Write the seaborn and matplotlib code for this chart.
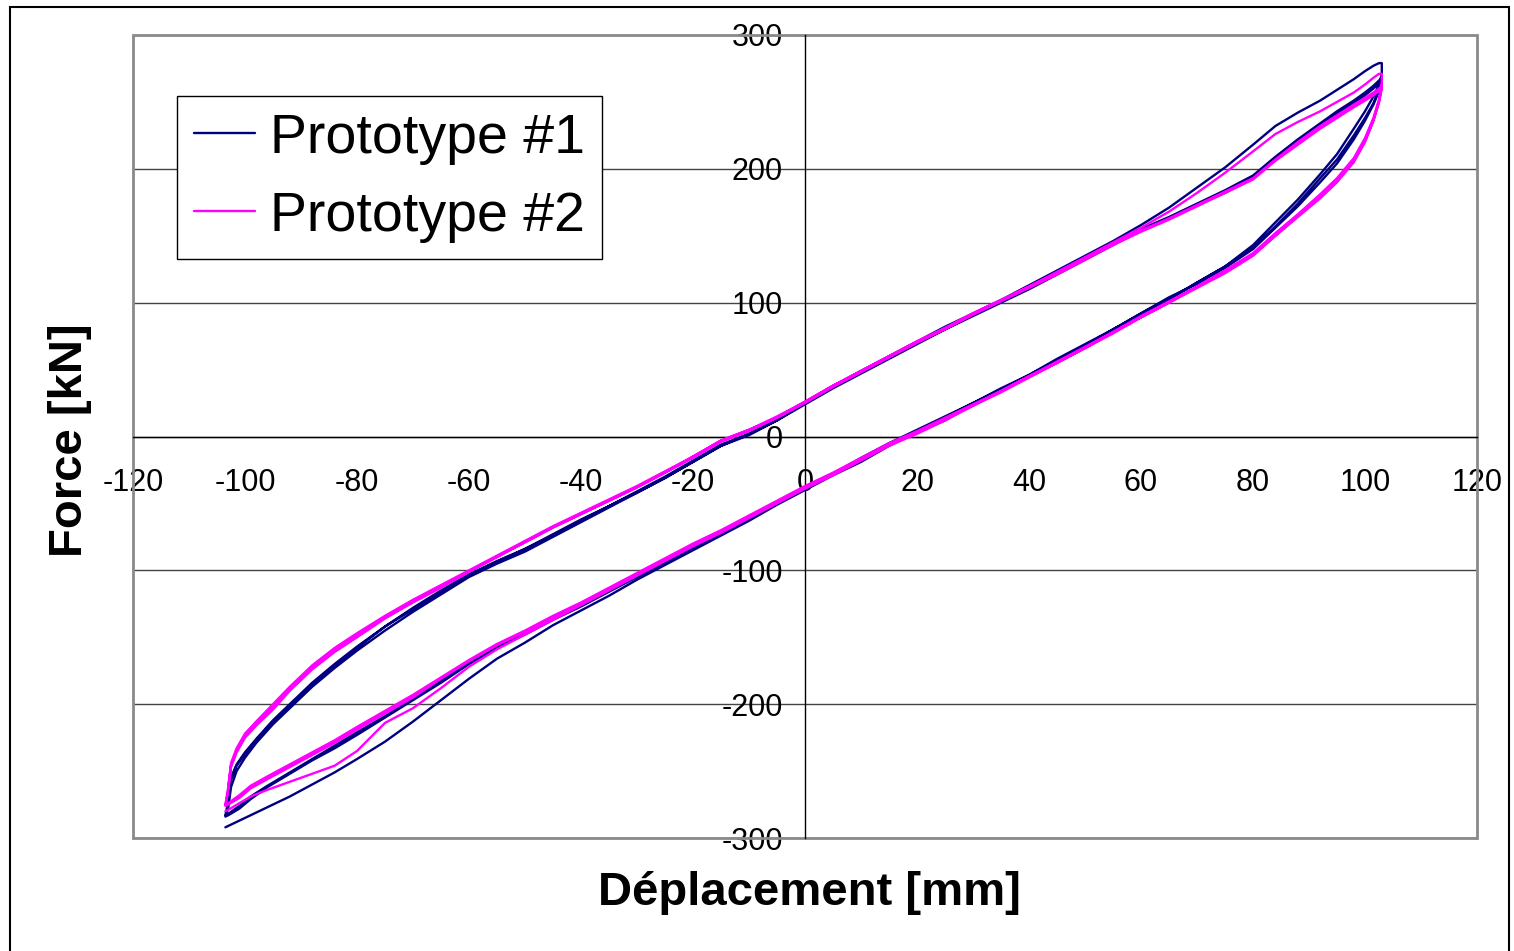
import matplotlib
matplotlib.use("Agg")
import matplotlib.pyplot as plt
from matplotlib.patches import Rectangle
import seaborn as sns
import pandas as pd

# ---------------- data ----------------
SERIES = ["Prototype #1", "Prototype #2"]
COLORS = ["#000080", "#FF00FF"]

# displacement stations of the loading branch (-103 -> +103) and unloading branch (+103 -> -103)
LOAD_X = [-103.5, -103, -101, -99, -96, -92, -88, -84, -80, -75,
          -70, -65, -60, -55, -50, -45, -40, -35, -30, -25,
          -20, -15, -10, -5, 0, 5, 10, 15, 20, 25,
          30, 35, 40, 45, 50, 55, 60, 65, 70, 75,
          80, 84, 88, 92, 95, 98, 100, 101.5, 102.5, 103]
UNLOAD_X = [103, 102.5, 101.5, 100, 98, 95, 92, 88, 84, 80,
            75, 70, 65, 60, 55, 50, 45, 40, 35, 30,
            25, 20, 15, 10, 5, 0, -5, -10, -15, -20,
            -25, -30, -35, -40, -45, -50, -55, -60, -65, -70,
            -75, -80, -84, -88, -92, -95, -98, -100, -101.5, -102.5,
            -103]

# Prototype #1 – three cycles
P1_LOWER_1 = [-292, -291, -287, -283, -277, -269, -260, -251, -241, -228,
              -213, -197, -181, -166, -154, -141, -130, -119, -107, -96,
              -85, -74, -63, -51, -40, -29, -19, -7, 3, 12,
              24, 34, 45, 56, 67, 80, 91, 102, 115, 127,
              143, 160, 177, 196, 211, 230, 243, 254, 263, 271]
P1_UPPER_1 = [279, 279, 277, 273, 267, 259, 251, 242, 232, 218,
              201, 186, 171, 158, 146, 135, 124, 113, 102, 92,
              82, 71, 60, 49, 37, 25, 13, 2, -7, -19,
              -31, -42, -53, -64, -75, -86, -95, -105, -118, -131,
              -145, -160, -173, -187, -203, -215, -229, -240, -250, -262,
              -278]
P1_LOWER_2 = [-284, -283, -278, -271, -262, -252, -242, -233, -223, -210,
              -197, -184, -170, -158, -148, -137, -127, -116, -105, -94,
              -84, -73, -62, -50, -39, -28, -17, -6, 4, 14,
              25, 35, 46, 57, 68, 80, 92, 103, 115, 127,
              141, 157, 174, 193, 207, 225, 238, 249, 259, 266]
P1_UPPER_2 = [268, 266, 262, 257, 251, 243, 234, 222, 209, 195,
              184, 174, 164, 155, 144, 133, 122, 111, 101, 91,
              80, 70, 59, 48, 37, 25, 12, 2, -6, -18,
              -30, -41, -52, -63, -74, -84, -94, -104, -116, -129,
              -142, -158, -171, -185, -201, -213, -227, -237, -246, -256,
              -273]
P1_LOWER_3 = [-283, -282, -276, -269, -261, -251, -241, -231, -221, -209,
              -196, -182, -169, -157, -147, -136, -126, -115, -104, -93,
              -83, -72, -61, -49, -38, -28, -16, -5, 5, 15,
              25, 36, 46, 58, 69, 80, 92, 104, 114, 126,
              140, 156, 172, 190, 204, 222, 236, 248, 258, 265]
P1_UPPER_3 = [266, 264, 260, 255, 249, 241, 232, 220, 207, 193,
              182, 173, 163, 154, 143, 132, 121, 110, 100, 90,
              80, 69, 58, 47, 36, 24, 12, 1, -7, -19,
              -31, -42, -52, -62, -73, -84, -93, -103, -115, -128,
              -142, -157, -170, -184, -200, -212, -226, -236, -245, -255,
              -272]

# Prototype #2 – three cycles
P2_LOWER_1 = [-280, -279, -274, -269, -264, -258, -252, -246, -235, -214,
              -203, -188, -172, -159, -148, -137, -126, -115, -104, -93,
              -82, -72, -61, -50, -39, -29, -18, -7, 2, 12,
              23, 33, 44, 55, 66, 77, 89, 100, 111, 122,
              135, 150, 164, 178, 190, 205, 220, 236, 250, 262]
P2_UPPER_1 = [271, 271, 268, 263, 257, 250, 243, 235, 226, 213,
              197, 182, 168, 156, 145, 134, 123, 112, 102, 92,
              81, 71, 60, 49, 38, 26, 14, 5, -3, -15,
              -27, -38, -48, -58, -68, -79, -90, -101, -113, -124,
              -136, -150, -161, -174, -190, -204, -216, -225, -236, -247,
              -265]
P2_LOWER_2 = [-276, -275, -270, -263, -256, -247, -238, -229, -219, -207,
              -195, -181, -168, -156, -146, -135, -125, -114, -103, -92,
              -81, -71, -60, -49, -38, -28, -17, -6, 3, 13,
              23, 34, 45, 55, 66, 78, 89, 100, 112, 124,
              137, 152, 166, 181, 193, 208, 223, 238, 252, 263]
P2_UPPER_2 = [262, 260, 257, 253, 248, 240, 232, 220, 207, 193,
              183, 173, 163, 154, 144, 133, 122, 112, 102, 92,
              81, 71, 60, 49, 38, 26, 15, 5, -3, -15,
              -26, -37, -47, -57, -67, -78, -89, -100, -111, -122,
              -134, -147, -158, -171, -187, -200, -213, -222, -233, -244,
              -262]
P2_LOWER_3 = [-275, -274, -268, -261, -254, -245, -236, -227, -217, -205,
              -193, -180, -167, -155, -145, -134, -124, -113, -102, -91,
              -80, -70, -59, -48, -37, -27, -16, -5, 4, 14,
              24, 34, 45, 56, 67, 78, 90, 101, 112, 124,
              136, 150, 165, 179, 191, 206, 221, 236, 250, 260]
P2_UPPER_3 = [260, 258, 255, 251, 246, 238, 230, 218, 206, 192,
              182, 172, 162, 153, 143, 132, 121, 111, 101, 91,
              80, 70, 59, 48, 37, 25, 14, 4, -4, -16,
              -27, -38, -48, -58, -68, -79, -90, -101, -112, -123,
              -135, -148, -160, -173, -189, -202, -215, -224, -235, -246,
              -263]

X_TICKS = [-120, -100, -80, -60, -40, -20, 0, 20, 40, 60, 80, 100, 120]
Y_TICKS = [-300, -200, -100, 0, 100, 200, 300]

CYCLES = {
    "Prototype #1": [(P1_LOWER_1, P1_UPPER_1), (P1_LOWER_2, P1_UPPER_2), (P1_LOWER_3, P1_UPPER_3)],
    "Prototype #2": [(P2_LOWER_1, P2_UPPER_1), (P2_LOWER_2, P2_UPPER_2), (P2_LOWER_3, P2_UPPER_3)],
}

rows = []
for name in SERIES:
    for lower, upper in CYCLES[name]:
        for x, y in zip(LOAD_X, lower):
            rows.append((name, x, y))
        for x, y in zip(UNLOAD_X, upper):
            rows.append((name, x, y))
df = pd.DataFrame(rows, columns=["Prototype", "Déplacement [mm]", "Force [kN]"])

# ---------------- figure ----------------
sns.set_theme(style="white")
plt.rcParams["font.family"] = ["Liberation Sans", "DejaVu Sans"]
plt.rcParams["text.color"] = "black"
plt.rcParams["axes.labelcolor"] = "black"
plt.rcParams["xtick.color"] = "black"
plt.rcParams["ytick.color"] = "black"

fig = plt.figure(figsize=(15.14, 9.51), dpi=100)
ax = fig.add_axes([133 / 1514, 1 - 838 / 951, 1344 / 1514, 803 / 951])

sns.lineplot(data=df, x="Déplacement [mm]", y="Force [kN]", hue="Prototype",
             hue_order=SERIES, palette=COLORS, sort=False, estimator=None,
             linewidth=1.7, ax=ax, zorder=3)

ax.set_xlim(-120, 120)
ax.set_ylim(-300, 300)
ax.set_xticks(X_TICKS)
ax.set_yticks(Y_TICKS)
ax.set_xticklabels([str(v) for v in X_TICKS])
ax.set_yticklabels([str(v) for v in Y_TICKS])

# horizontal gridlines only
ax.yaxis.grid(True, color="#444444", linewidth=1.0)
ax.xaxis.grid(False)
ax.set_axisbelow(True)

# axes crossing at zero
for side in ["left", "bottom"]:
    ax.spines[side].set_position(("data", 0))
    ax.spines[side].set_color("black")
    ax.spines[side].set_linewidth(1.0)
    ax.spines[side].set_zorder(2.5)
for side in ["top", "right"]:
    ax.spines[side].set_visible(False)

ax.add_patch(Rectangle((0, 0), 1, 1, transform=ax.transAxes, fill=False,
                       edgecolor="#8a8a8a", linewidth=2.0, clip_on=False, zorder=2))

ax.tick_params(axis="both", which="major", direction="out", length=6, width=1,
               colors="black", labelcolor="black", labelsize=22)
ax.tick_params(axis="x", pad=17)
ax.tick_params(axis="y", pad=10)

ax.set_xlabel("Déplacement [mm]", fontsize=34, fontweight="bold", va="baseline", color="black")
ax.xaxis.set_label_coords(0.503, 1 - (905 - 35) / 803)
ax.set_ylabel("Force [kN]", fontsize=34, fontweight="bold", va="baseline", color="black")
ax.yaxis.set_label_coords((82 - 133) / 1344, 1 - (440 - 35) / 803)

handles, labels = ax.get_legend_handles_labels()
leg = ax.legend(handles, labels, loc="upper left",
                bbox_to_anchor=((177 - 133) / 1344, 1 - (96 - 35) / 803),
                borderaxespad=0, fontsize=40, frameon=True, fancybox=False,
                shadow=False, handlelength=1.1, handletextpad=0.28,
                borderpad=0.3, labelspacing=0.47)
leg.get_frame().set_edgecolor("black")
leg.get_frame().set_linewidth(1.0)
leg.get_frame().set_alpha(1)
for text in leg.get_texts():
    text.set_color("black")
for line in leg.get_lines():
    line.set_linewidth(1.7)

# outer chart frame
fig.add_artist(Rectangle((10 / 1514, -0.02), (1509 - 10) / 1514, 1 - 7 / 951 + 0.02,
                         transform=fig.transFigure, fill=False, edgecolor="black",
                         linewidth=1.5))

fig.savefig("out.png", dpi=100)
